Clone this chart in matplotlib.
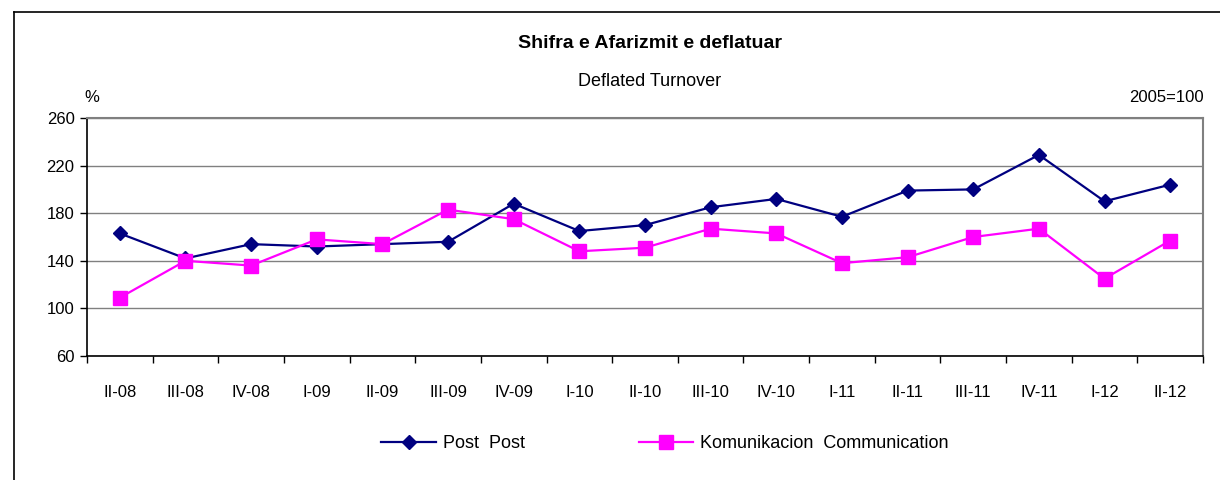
import numpy as np
import matplotlib.pyplot as plt
from matplotlib.lines import Line2D

plt.rcParams['font.family'] = ['Liberation Sans', 'DejaVu Sans']

# tremujoret
quarters = ['II-08', 'III-08', 'IV-08', 'I-09', 'II-09', 'III-09', 'IV-09', 'I-10',
            'II-10', 'III-10', 'IV-10', 'I-11', 'II-11', 'III-11', 'IV-11', 'I-12', 'II-12']
post = [163, 142, 154, 152, 154, 156, 188, 165, 170, 185, 192, 177, 199, 200, 229, 190, 204]
komunikacion = [109, 140, 136, 158, 154, 183, 175, 148, 151, 167, 163, 138, 143, 160, 167, 125, 157]
y_ticks = [60, 100, 140, 180, 220, 260]

W, H = 1220, 480
fig = plt.figure(figsize=(W / 100, H / 100), dpi=100)
ax = fig.add_axes([87 / W, 1 - 356 / H, (1203 - 87) / W, (356 - 118) / H])

x = np.arange(len(quarters))
ax.plot(x, post, color='#000080', lw=1.6, marker='D', markersize=7,
        label='Post  Post')
ax.plot(x, komunikacion, color='#FF00FF', lw=1.6, marker='s', markersize=9.5,
        label='Komunikacion  Communication')

ax.set_xlim(-0.5, len(quarters) - 0.5)
ax.set_ylim(60, 260)
ax.set_yticks(y_ticks)
ax.set_xticks(x)
ax.set_xticklabels(quarters)
ax.set_xticks(np.arange(-0.5, len(quarters), 1), minor=True)
ax.tick_params(axis='x', which='major', length=0, pad=21, labelsize=12)
ax.tick_params(axis='x', which='minor', length=5, width=1, direction='out')
ax.tick_params(axis='y', length=5, width=1, direction='out', pad=4, labelsize=12)

ax.grid(axis='y', color='#808080', lw=1)
ax.set_axisbelow(True)
for s in ['top', 'right']:
    ax.spines[s].set_color('#808080')
    ax.spines[s].set_linewidth(1.5)
for s in ['left', 'bottom']:
    ax.spines[s].set_color('black')
    ax.spines[s].set_linewidth(1.2)

fig.text(650 / W, 1 - 44 / H, 'Shifra e Afarizmit e deflatuar', ha='center', va='center',
         fontsize=14, fontweight='bold')
fig.text(650 / W, 1 - 82 / H, 'Deflated Turnover', ha='center', va='center', fontsize=13)
fig.text(84 / W, 1 - 97 / H, '%', ha='left', va='center', fontsize=12)
fig.text(1204 / W, 1 - 97 / H, '2005=100', ha='right', va='center', fontsize=12)

fig.legend(loc='center', bbox_to_anchor=(665 / W, 1 - 444 / H), ncol=2, frameon=False,
           fontsize=13, handlelength=3.0, columnspacing=6.3, handletextpad=0.4,
           markerscale=1.0)

# korniza e grafikut
fig.add_artist(Line2D([14 / W, 14 / W], [0, 1 - 12 / H], color='black', lw=1.2))
fig.add_artist(Line2D([14 / W, 1], [1 - 12 / H, 1 - 12 / H], color='black', lw=1.2))

fig.savefig('out.png', dpi=100)
